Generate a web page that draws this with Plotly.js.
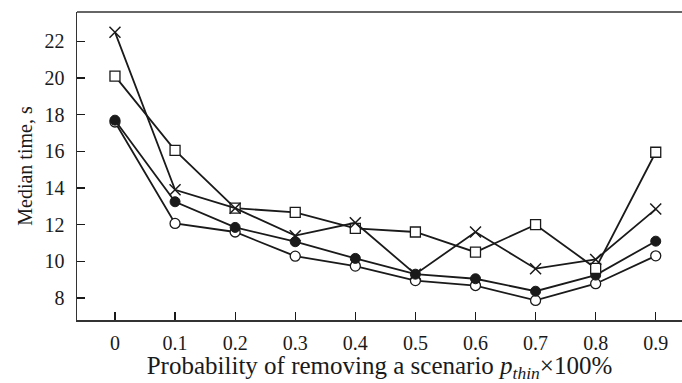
<!DOCTYPE html>
<html>
<head>
<meta charset="utf-8">
<script src="https://cdn.plot.ly/plotly-3.0.1.min.js"></script>
<style>html,body{margin:0;padding:0;background:#fff;}#chart{width:682px;height:383px;}</style>
</head>
<body>
<div id="chart"></div>
<script>
const probs = [0, 0.1, 0.2, 0.3, 0.4, 0.5, 0.6, 0.7, 0.8, 0.9];
const tickLabels = ["0", "0.1", "0.2", "0.3", "0.4", "0.5", "0.6", "0.7", "0.8", "0.9"];
const crossSeries = [22.5, 13.9, 12.9, 11.4, 12.1, 9.3, 11.6, 9.6, 10.1, 12.85];
const squareSeries = [20.1, 16.05, 12.9, 12.67, 11.8, 11.6, 10.5, 12.0, 9.62, 15.95];
const filledCircleSeries = [17.7, 13.25, 11.85, 11.07, 10.16, 9.3, 9.05, 8.37, 9.25, 11.1];
const openCircleSeries = [17.6, 12.07, 11.6, 10.28, 9.74, 8.95, 8.68, 7.87, 8.78, 10.3];

function tr(y, marker) {
  return {x: probs, y: y, type: 'scatter', mode: 'lines+markers',
    line: {color: '#1a1a1a', width: 1.8}, marker: marker, showlegend: false, cliponaxis: false};
}
const data = [
  tr(openCircleSeries, {symbol: 'circle', size: 10, color: '#fff', line: {color: '#1a1a1a', width: 1.3}}),
  tr(filledCircleSeries, {symbol: 'circle', size: 10, color: '#1a1a1a', line: {color: '#1a1a1a', width: 1}}),
  tr(squareSeries, {symbol: 'square', size: 10, color: '#fff', line: {color: '#1a1a1a', width: 1.3}}),
  tr(crossSeries, {symbol: 'x-thin-open', size: 11, color: '#1a1a1a', line: {color: '#1a1a1a', width: 1.5}})
];
const layout = {
  width: 682, height: 383,
  margin: {l: 77, r: 0, t: 12, b: 63},
  paper_bgcolor: '#fff', plot_bgcolor: '#fff',
  font: {family: 'Liberation Serif, Times New Roman, serif', color: '#1a1a1a', size: 20},
  xaxis: {
    range: [-0.0632, 0.9437], tickvals: probs, ticktext: tickLabels,
    ticks: 'inside', ticklen: 8, tickcolor: '#1a1a1a', tickwidth: 1.2,
    showline: true, linecolor: '#333', linewidth: 1.5, showgrid: false, zeroline: false,
    ticklabelstandoff: 4,
    tickfont: {size: 20}, title: {text: 'Probability of removing a scenario <i>p</i><sub><i>thin</i></sub>×100%', font: {size: 25}, standoff: 0}
  },
  yaxis: {
    range: [6.8, 23.6], tickvals: [8, 10, 12, 14, 16, 18, 20, 22],
    ticks: 'inside', ticklen: 8, tickcolor: '#1a1a1a', tickwidth: 1.2,
    showline: true, linecolor: '#333', linewidth: 1.5, showgrid: false, zeroline: false,
    ticklabelstandoff: 7,
    tickfont: {size: 20}, title: {text: 'Median time, s', font: {size: 20}, standoff: 6}
  },
  shapes: [{type: 'line', xref: 'paper', yref: 'paper', x0: 0, x1: 1, y0: 1, y1: 1, line: {color: '#333', width: 1.5}}]
};
Plotly.newPlot('chart', data, layout, {displayModeBar: false, staticPlot: true});
</script>
</body>
</html>
